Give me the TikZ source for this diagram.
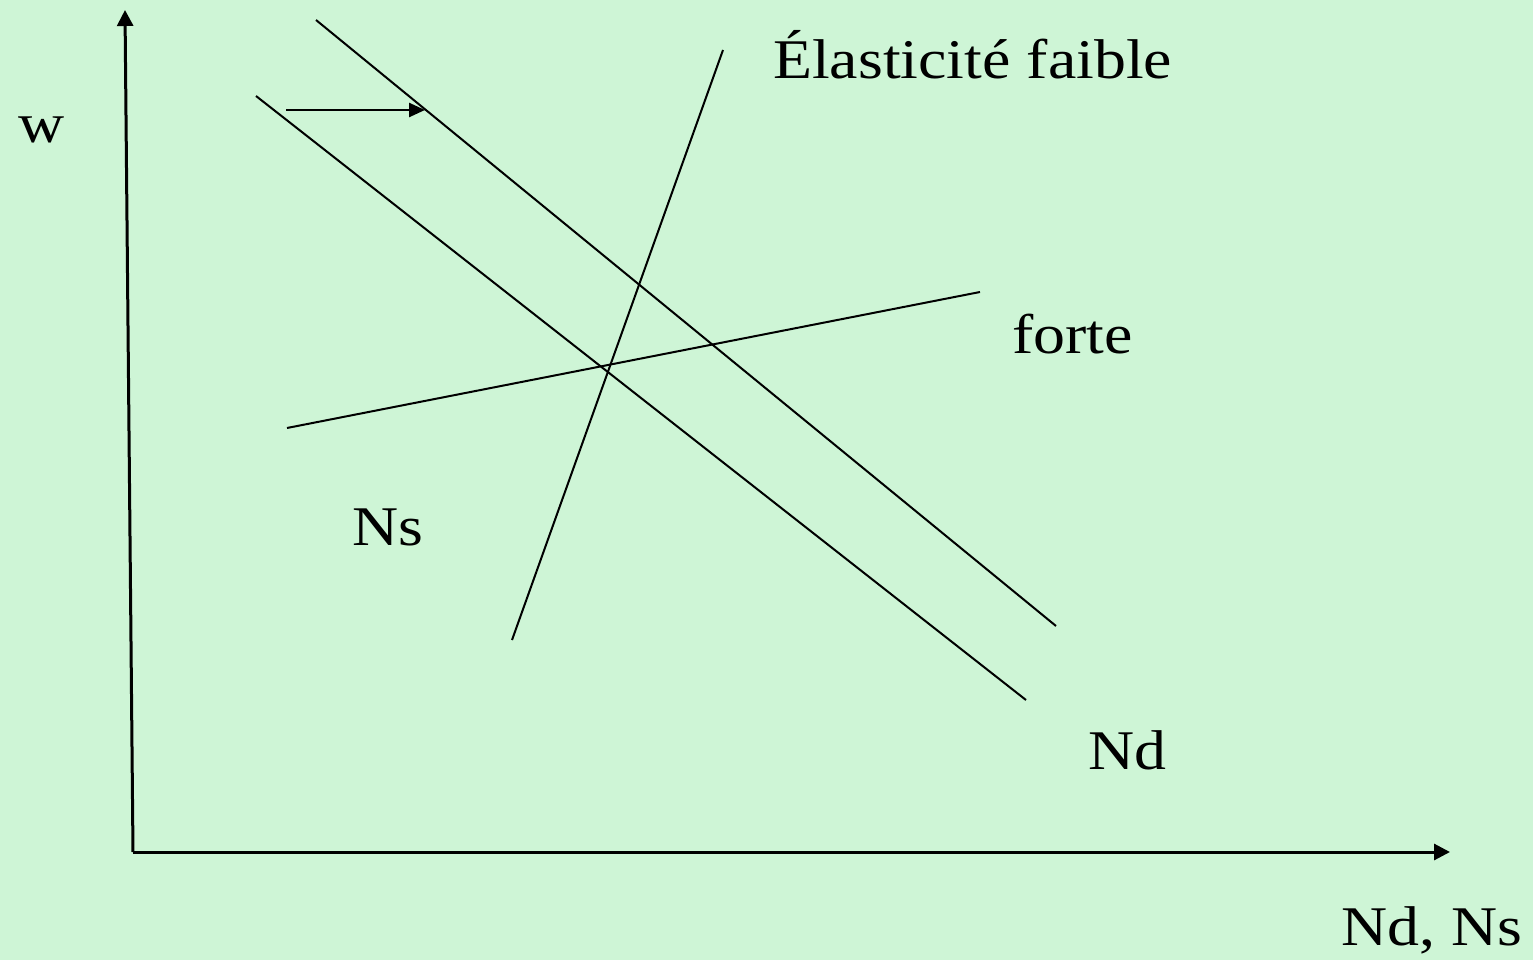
\documentclass[tikz,border=0pt]{standalone}
\usepackage{fontspec}
\setmainfont{Liberation Serif}
\usetikzlibrary{arrows.meta}
\definecolor{bgmint}{RGB}{206,245,214}
\newcommand{\hstretch}[1]{\scalebox{1.14}[1]{#1}}
\begin{document}
\begin{tikzpicture}[x=1pt,y=-1pt,
  curve/.style={draw=black,line width=2pt},
  axis/.style={draw=black,line width=3pt,-{Triangle[length=16pt,width=16pt]}},
  shiftarrow/.style={draw=black,line width=2.5pt,-{Triangle[length=16pt,width=14pt]}},
  lbl/.style={anchor=base west,inner sep=0pt,font=\fontsize{56}{60}\selectfont}]
\fill[bgmint] (0,0) rectangle (1533,960);
\useasboundingbox (0,0) rectangle (1533,960);
% axes
\coordinate (O) at (133,852);
\coordinate (Ytop) at (125,10);
\coordinate (Xend) at (1450,852);
\draw[axis] (O) -- (Ytop);
\draw[axis] (O) -- (Xend);
% demand curves
\coordinate (D1a) at (316,20);
\coordinate (D1b) at (1056,626);
\coordinate (D0a) at (256,96);
\coordinate (D0b) at (1026,700);
\draw[curve] (D1a) -- (D1b);
\draw[curve] (D0a) -- (D0b);
% supply curves
\coordinate (Sfa) at (512,640);
\coordinate (Sfb) at (723,50);
\coordinate (Sta) at (287,428);
\coordinate (Stb) at (980,292);
\draw[curve] (Sfa) -- (Sfb);
\draw[curve] (Sta) -- (Stb);
% shift arrow
\coordinate (Aa) at (286,110);
\coordinate (Ab) at (425,110);
\draw[shiftarrow] (Aa) -- (Ab);
% labels
\node[lbl] (w) at (18,143) {\hstretch{w}};
\node[lbl] (faible) at (773,79) {\hstretch{Élasticité faible}};
\node[lbl] (forte) at (1012,353) {\hstretch{forte}};
\node[lbl] (Ns) at (352,545) {\hstretch{Ns}};
\node[lbl] (Nd) at (1088,769) {\hstretch{Nd}};
\node[lbl] (NdNs) at (1341,945) {\hstretch{Nd, Ns}};
\end{tikzpicture}
\end{document}
